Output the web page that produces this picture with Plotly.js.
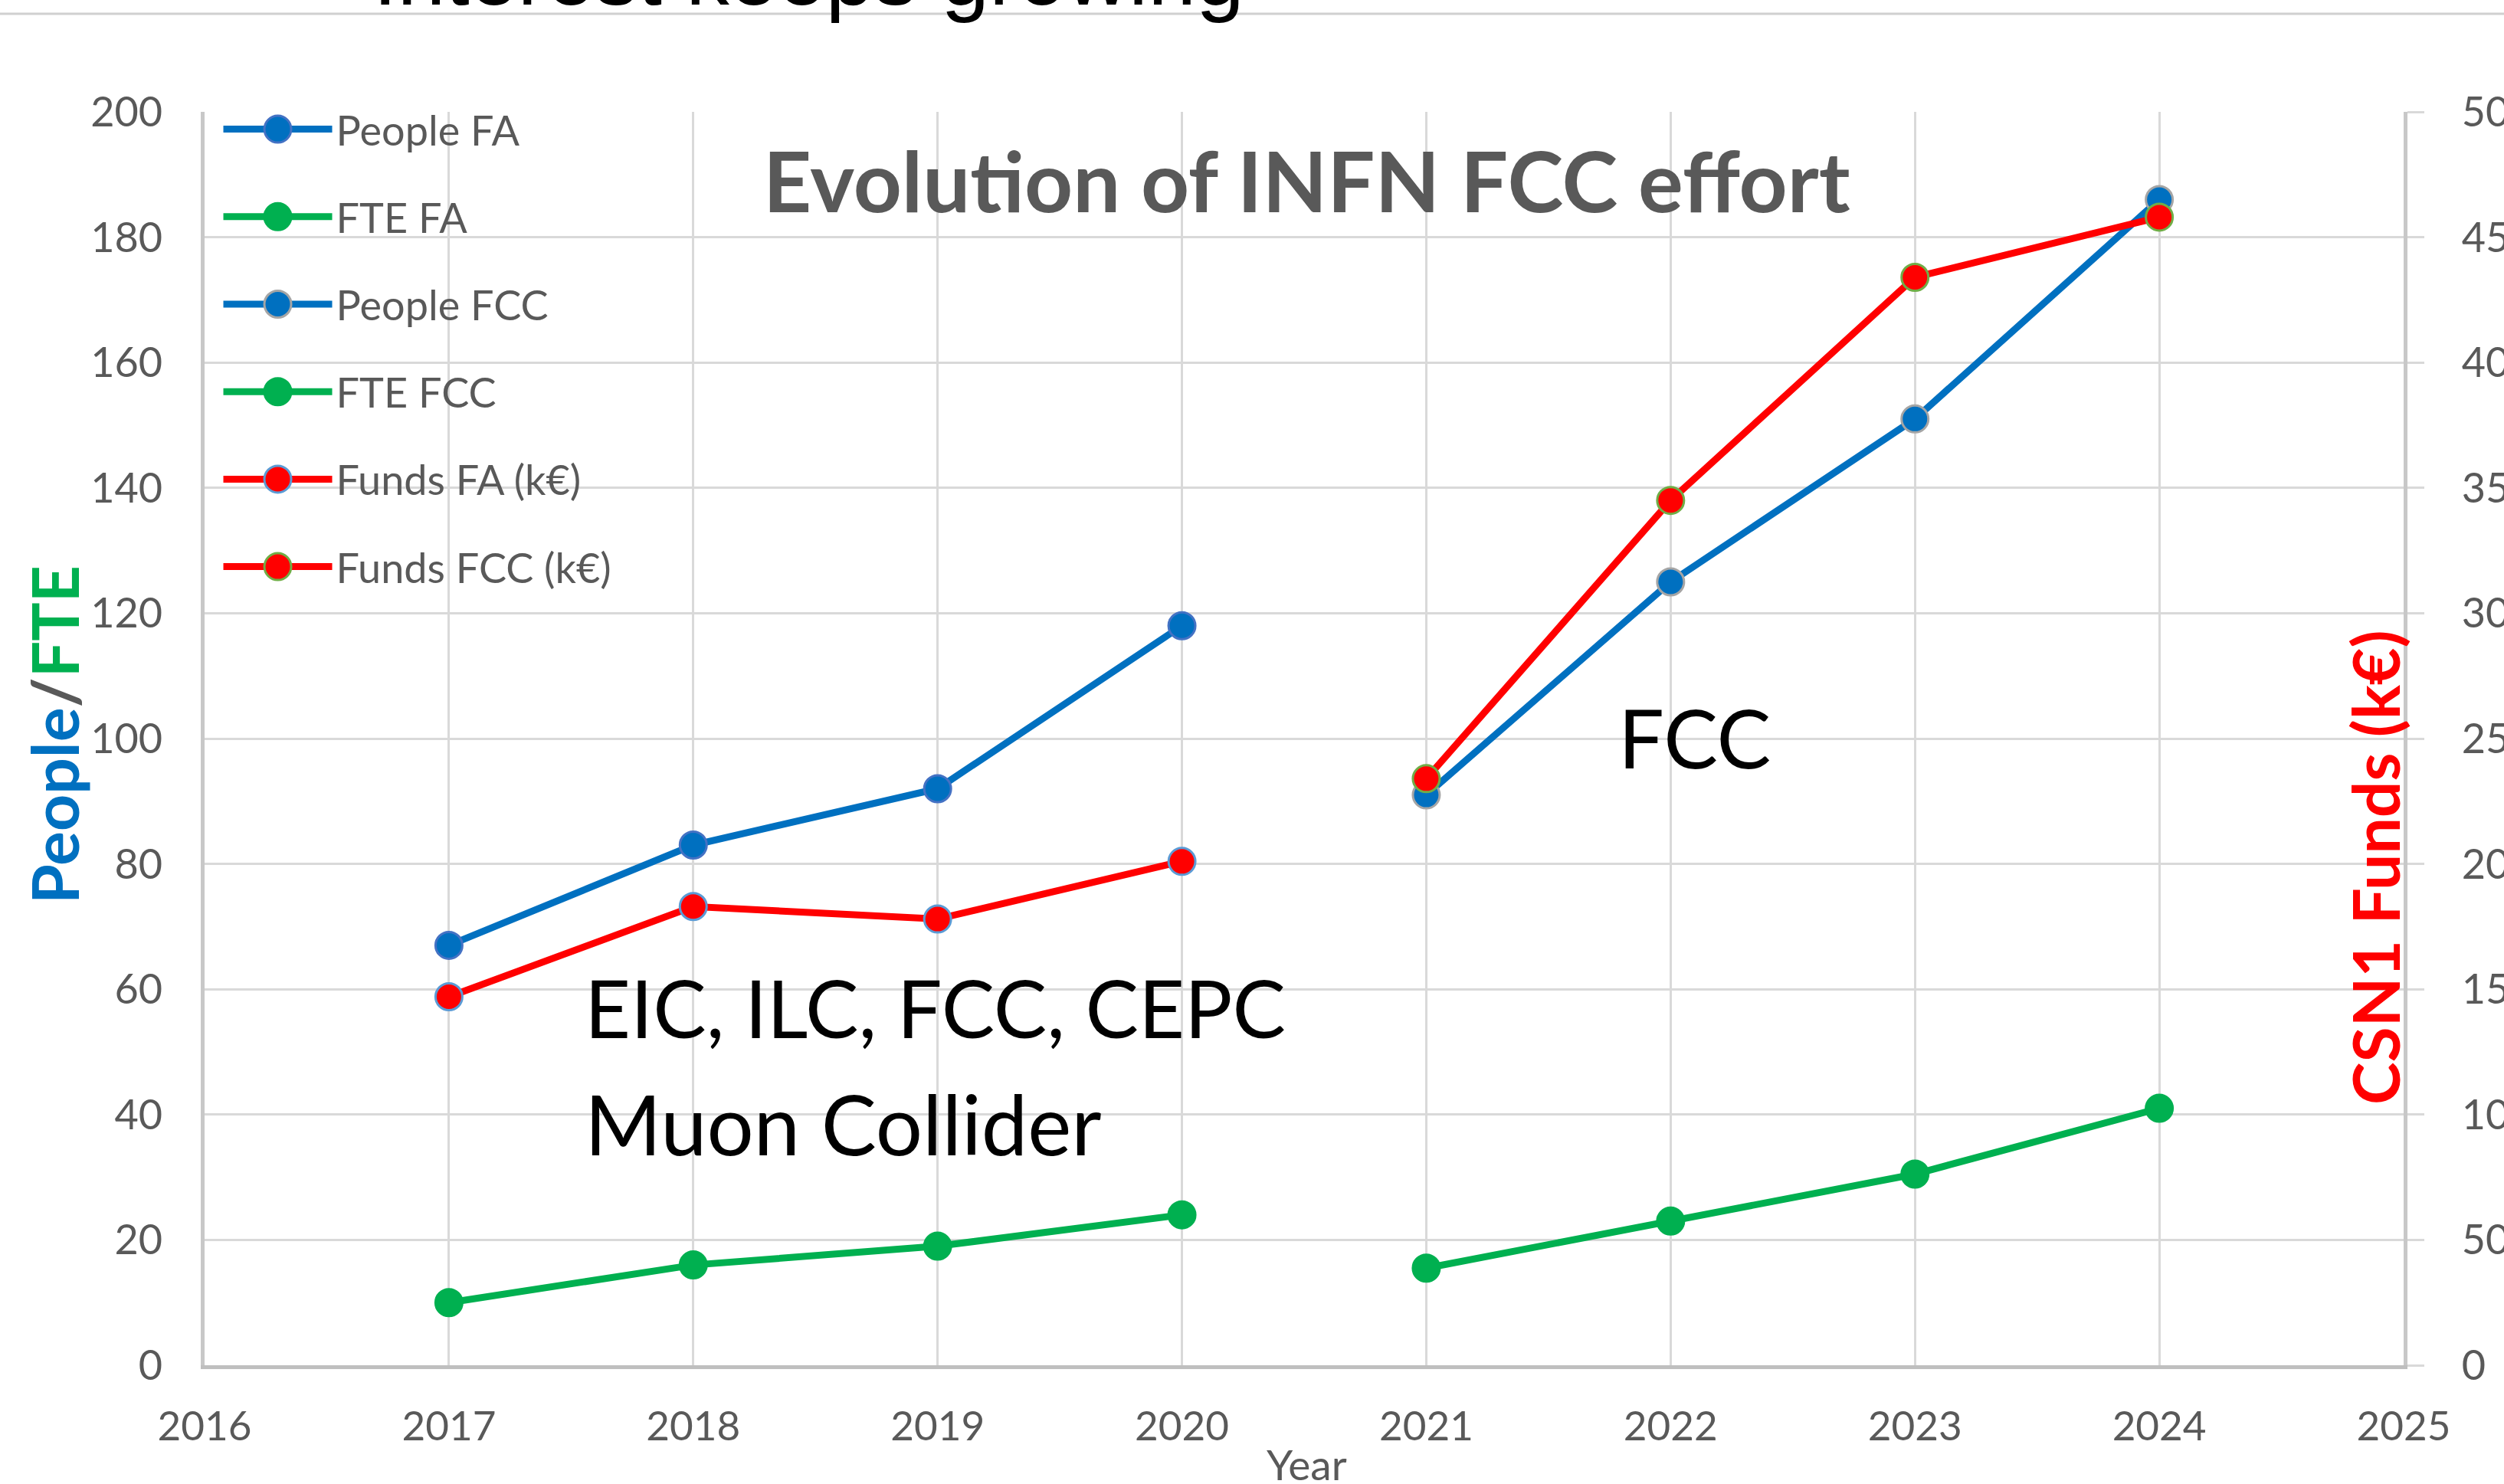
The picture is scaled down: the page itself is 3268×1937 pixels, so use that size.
<!DOCTYPE html>
<html>
<head>
<meta charset="utf-8">
<script src="https://cdn.plot.ly/plotly-3.0.1.min.js"></script>
<style>
html,body{margin:0;padding:0;background:#fff;}
#chart{width:3268px;height:1937px;}
</style>
</head>
<body>
<div id="chart"></div>
<script>
// ---- data ----
const yearsFA = [2017, 2018, 2019, 2020];
const yearsFCC = [2021, 2022, 2023, 2024];
const peopleFA = [67, 83, 92, 118];
const fteFA = [10, 16, 19, 24];
const peopleFCC = [91, 125, 151, 186];
const fteFCC = [15.5, 23, 30.5, 41];
const fundsFA = [147, 183, 178, 201];
const fundsFCC = [234, 345, 434, 458];
const seriesNames = ["People FA", "FTE FA", "People FCC", "FTE FCC", "Funds FA (k€)", "Funds FCC (k€)"];
const xTickVals = [2016, 2017, 2018, 2019, 2020, 2021, 2022, 2023, 2024, 2025];

const BLUE = '#0070C0', GREEN = '#00B050', RED = '#FF0000';
const GREY_TXT = '#595959';
const LW = 9, MS = 35;

function tr(name, x, y, color, mfill, mline, axis, group) {
  return {
    type: 'scatter', mode: 'lines+markers', name: name, x: x, y: y, yaxis: axis,
    legendgroup: group,
    line: {color: color, width: LW},
    marker: {size: MS, color: mfill, line: {color: mline, width: 3}}
  };
}

const data = [
  tr(seriesNames[0], yearsFA, peopleFA, BLUE, BLUE, '#4472C4', 'y', 'g1'),
  tr(seriesNames[1], yearsFA, fteFA, GREEN, GREEN, GREEN, 'y', 'g2'),
  tr(seriesNames[2], yearsFCC, peopleFCC, BLUE, BLUE, '#A5A5A5', 'y', 'g3'),
  tr(seriesNames[3], yearsFCC, fteFCC, GREEN, GREEN, GREEN, 'y', 'g4'),
  tr(seriesNames[4], yearsFA, fundsFA, RED, RED, '#5B9BD5', 'y2', 'g5'),
  tr(seriesNames[5], yearsFCC, fundsFCC, RED, RED, '#70AD47', 'y2', 'g6')
];

const layout = {
  width: 3268, height: 1937,
  paper_bgcolor: '#ffffff', plot_bgcolor: '#ffffff',
  margin: {l: 267, r: 131, t: 146, b: 155, pad: 0},
  font: {family: 'Lato, sans-serif', color: GREY_TXT},
  showlegend: true,
  legend: {
    x: 0.0068, y: 1.0116, xanchor: 'left', yanchor: 'top',
    bgcolor: 'rgba(255,255,255,0)', borderwidth: 0,
    font: {family: 'Lato, sans-serif', size: 54, color: GREY_TXT},
    itemwidth: 142, tracegroupgap: 41, traceorder: 'grouped',
    itemclick: false
  },
  xaxis: {
    range: [2016, 2025], tickvals: xTickVals, ticktext: xTickVals.map(String),
    showgrid: true, gridcolor: '#d9d9d9', gridwidth: 3,
    showline: true, linecolor: '#bfbfbf', linewidth: 5,
    zeroline: false, ticks: '', ticklabelstandoff: 29,
    tickfont: {family: 'Lato, sans-serif', size: 53, color: GREY_TXT}
  },
  yaxis: {
    range: [0, 200], dtick: 20, tick0: 0,
    showgrid: true, gridcolor: '#d9d9d9', gridwidth: 3,
    showline: true, linecolor: '#c8c8c8', linewidth: 5,
    zeroline: false, ticks: '', ticklabelstandoff: 39,
    tickfont: {family: 'Lato, sans-serif', size: 54, color: GREY_TXT}
  },
  yaxis2: {
    range: [0, 500], dtick: 50, tick0: 0, overlaying: 'y', side: 'right',
    showgrid: false, showline: true, linecolor: '#c8c8c8', linewidth: 5,
    zeroline: false, ticks: 'outside', ticklen: 22, tickwidth: 3, tickcolor: '#d9d9d9',
    ticklabelstandoff: 38, ticklabeloverflow: 'allow',
    tickfont: {family: 'Lato, sans-serif', size: 54, color: GREY_TXT}
  },
  shapes: [
    {type: 'line', xref: 'paper', yref: 'paper', x0: -0.2, x1: 1.1,
     y0: 1 + (146 - 18) / 1636, y1: 1 + (146 - 18) / 1636,
     line: {color: '#d0d0d0', width: 3}, layer: 'below'}
  ],
  annotations: [
    {text: 'Interest keeps growing', xref: 'paper', yref: 'paper',
     x: (486 - 267) / 2870, y: 1 + (146 - 31) / 1636, xanchor: 'left', yanchor: 'bottom',
     showarrow: false, borderpad: 0,
     font: {family: 'Liberation Sans, Arial, sans-serif', size: 113, color: '#000000'}},
    {text: '<b>Evolution of INFN FCC effort</b>', xref: 'x', yref: 'y',
     x: 2020.51, y: 189.3, xanchor: 'center', yanchor: 'middle', showarrow: false,
     font: {family: 'Lato, sans-serif', size: 110, color: GREY_TXT}},
    {text: 'EIC, ILC, FCC, CEPC', xref: 'x', yref: 'y',
     x: 2017.55, y: 57.2, xanchor: 'left', yanchor: 'middle', showarrow: false,
     font: {family: 'Lato, sans-serif', size: 104, color: '#000000'}},
    {text: 'Muon Collider', xref: 'x', yref: 'y',
     x: 2017.55, y: 38.6, xanchor: 'left', yanchor: 'middle', showarrow: false,
     font: {family: 'Lato, sans-serif', size: 108, color: '#000000'}},
    {text: 'FCC', xref: 'x', yref: 'y',
     x: 2021.78, y: 100.2, xanchor: 'left', yanchor: 'middle', showarrow: false,
     font: {family: 'Lato, sans-serif', size: 106, color: '#000000'}},
    {text: 'Year', xref: 'paper', yref: 'paper',
     x: (1705 - 267) / 2870, y: (1782 - 1911) / 1636, xanchor: 'center', yanchor: 'middle',
     showarrow: false,
     font: {family: 'Lato, sans-serif', size: 55, color: GREY_TXT}},
    {text: '<b><span style="color:#0070C0">People</span><span style="color:#595959">/</span><span style="color:#00B050">FTE</span></b>',
     xref: 'paper', yref: 'paper',
     x: (70 - 267) / 2870, y: (1782 - 959) / 1636, xanchor: 'center', yanchor: 'middle',
     textangle: -90, showarrow: false,
     font: {family: 'Lato, sans-serif', size: 84, color: BLUE}},
    {text: '<b>CSN1 Funds (k€)</b>', xref: 'paper', yref: 'paper',
     x: (3099 - 267) / 2870, y: (1782 - 1132) / 1636, xanchor: 'center', yanchor: 'middle',
     textangle: -90, showarrow: false,
     font: {family: 'Lato, sans-serif', size: 84, color: RED}}
  ]
};

Plotly.newPlot('chart', data, layout, {staticPlot: true, displayModeBar: false}).then(function (gd) {
  // legend symbols: same marker size and line width as the traces
  const r = MS / 2;
  const circ = 'M' + r + ',0A' + r + ',' + r + ' 0 1,1 0,-' + r + 'A' + r + ',' + r + ' 0 0,1 ' + r + ',0Z';
  gd.querySelectorAll('.legend .legendpoints path.scatterpts').forEach(function (p) {
    p.setAttribute('d', circ);
    p.style.strokeWidth = '3px';
  });
  gd.querySelectorAll('.legend .legendlines path').forEach(function (p) {
    p.style.strokeWidth = LW + 'px';
  });
});
</script>
</body>
</html>
